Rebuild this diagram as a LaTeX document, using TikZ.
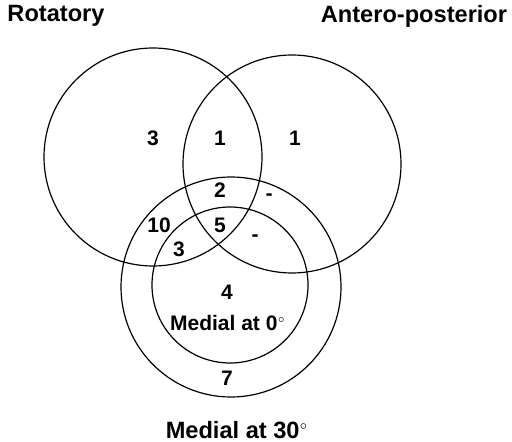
\documentclass[tikz,border=0pt]{standalone}
\usepackage{fontspec}
\setmainfont{Liberation Sans}
\usetikzlibrary{positioning}

\begin{document}
\begin{tikzpicture}[
    x=0.5pt, y=-0.5pt,
    every node/.style={font=\bfseries\fontsize{10.5}{12}\selectfont, inner sep=0pt},
    set/.style={draw, circle, line width=0.6pt, minimum size=#1},
    count/.style={font=\bfseries\fontsize{10.5}{12}\selectfont},
    title/.style={font=\bfseries\fontsize{11.8}{14}\selectfont}
]
\useasboundingbox (0,0) rectangle (512,442);
% the four sets
\node[set=109pt] (rot) at (153,157) {};
\node[set=109pt] (ap) at (292,164) {};
\node[set=110pt] (med30) at (231,287) {};
\node[set=78pt] (med0) at (230,285) {};
% set names
\node[title] (rotname) at (56,16) {Rotatory};
\node[title] (apname) at (414,16) {Antero-posterior};
\node[title] (med30name) at (237,430) {Medial at 30${}^{\scriptscriptstyle\circ}$};
\node[count] (med0name) at (228,323) {Medial at 0${}^{\scriptscriptstyle\circ}$};
% counts
\node[count] (nrot) at (153,138) {3};
\node[count] (nrotap) at (220,138) {1};
\node[count] (nap) at (295,138) {1};
\node[count] (nrotapm) at (220,190) {2};
\node[count] (napm) at (269,197) {-};
\node[count] (nrotm) at (159,225) {10};
\node[count] (nall) at (220,225) {5};
\node[count] (napmm) at (255,238) {-};
\node[count] (nrotmm) at (179,249) {3};
\node[count] (nmm) at (227,292) {4};
\node[count] (nm) at (227,378) {7};
\end{tikzpicture}
\end{document}
